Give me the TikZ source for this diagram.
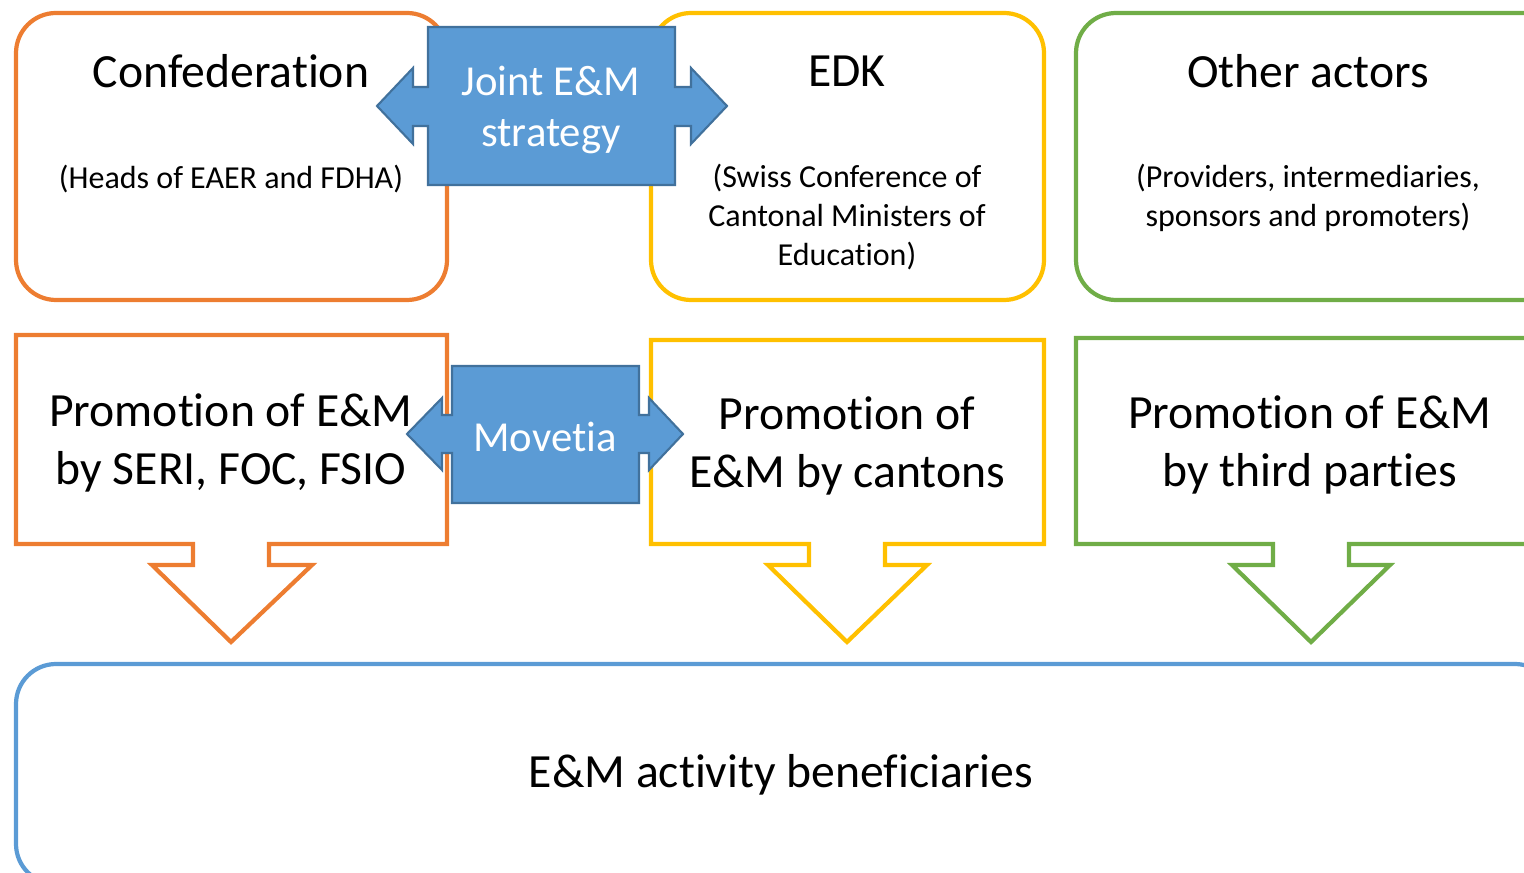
\documentclass[tikz,border=0pt]{standalone}
\usepackage{fontspec}
\setmainfont{Carlito}[Ligatures=NoCommon]
\usepackage{xcolor}
\definecolor{emorange}{RGB}{237,125,49}
\definecolor{emyellow}{RGB}{255,192,0}
\definecolor{emgreen}{RGB}{112,173,71}
\definecolor{emblue}{RGB}{91,155,213}
\definecolor{emdarkblue}{RGB}{65,113,156}

\tikzset{
  actorbox/.style={line width=1.2pt, rounded corners=0.4cm},
  promobox/.style={line width=1.2pt, line join=miter},
  linkarrow/.style={fill=emblue, draw=emdarkblue, line width=0.6pt},
  bigtext/.style={font=\fontsize{13.55}{16.3}\selectfont, align=center, inner sep=0pt},
  smalltext/.style={font=\fontsize{9.1}{11}\selectfont, align=center, inner sep=0pt},
  linktext/.style={font=\fontsize{12.15}{14.5}\selectfont, align=center, inner sep=0pt, text=white},
}

\begin{document}
\begin{tikzpicture}[x=0.01cm, y=-0.01cm]
  \useasboundingbox (0,0) rectangle (1524,873);
  \clip (0,0) rectangle (1524,873);

  % Actors
  \draw[actorbox, emorange] (16,13) rectangle (447,300);
  \draw[actorbox, emyellow] (651,13) rectangle (1044,300);
  \draw[actorbox, emgreen] (1076,13) rectangle (1565,300);

  % Promotion boxes with down arrows
  \foreach \col/\l/\r/\t/\sl/\sr/\hl/\hr/\m in {emorange/16/447/335/193/269/152/312/231,
      emyellow/651/1044/340/809/885/768/927/847,
      emgreen/1076/1565/338/1273/1349/1232/1390/1311} {
    \draw[promobox, \col] (\l,\t) -- (\r,\t) -- (\r,544) -- (\sr,544) -- (\sr,565)
      -- (\hr,565) -- (\m,642) -- (\hl,565) -- (\sl,565) -- (\sl,544) -- (\l,544) -- cycle;
  }

  % Beneficiaries
  \draw[actorbox, emblue] (16,664) rectangle (1555,884);

  % Joint strategy arrow
  \draw[linkarrow] (428,27) -- (675,27) -- (675,87) -- (691,87) -- (691,68) -- (727,106)
    -- (691,144) -- (691,126) -- (675,126) -- (675,185) -- (428,185) -- (428,126)
    -- (413,126) -- (413,144) -- (377,106) -- (413,68) -- (413,87) -- (428,87) -- cycle;

  % Movetia arrow
  \draw[linkarrow] (452,366) -- (639,366) -- (639,415) -- (649,415) -- (649,398) -- (683,434)
    -- (649,470) -- (649,453) -- (639,453) -- (639,503) -- (452,503) -- (452,453)
    -- (442,453) -- (442,470) -- (407,434) -- (442,398) -- (442,415) -- (452,415) -- cycle;

  % Texts
  \node[bigtext] (confname) at (231,71) {Confederation};
  \node[smalltext] (confnote) at (231,179) {(Heads of EAER and FDHA)};
  \node[bigtext] (edkname) at (847,71) {EDK};
  \node[smalltext] (edknote) at (847,217) {(Swiss Conference of\\Cantonal Ministers of\\Education)};
  \node[bigtext] (othername) at (1308,71) {Other actors};
  \node[smalltext] (othernote) at (1308,198) {(Providers, intermediaries,\\sponsors and promoters)};
  \node[linktext] (joint) at (551,110) {Joint E\&M\\strategy};
  \node[linktext] (movetia) at (545,437) {Movetia};
  \node[bigtext] (promoconf) at (231,443) {Promotion of E\&M\\by SERI, FOC, FSIO};
  \node[bigtext] (promocant) at (847,446) {Promotion of\\E\&M by cantons};
  \node[bigtext] (promothird) at (1310,445) {Promotion of E\&M\\by third parties};
  \node[bigtext] (benef) at (781,775) {E\&M activity beneficiaries};
\end{tikzpicture}
\end{document}
